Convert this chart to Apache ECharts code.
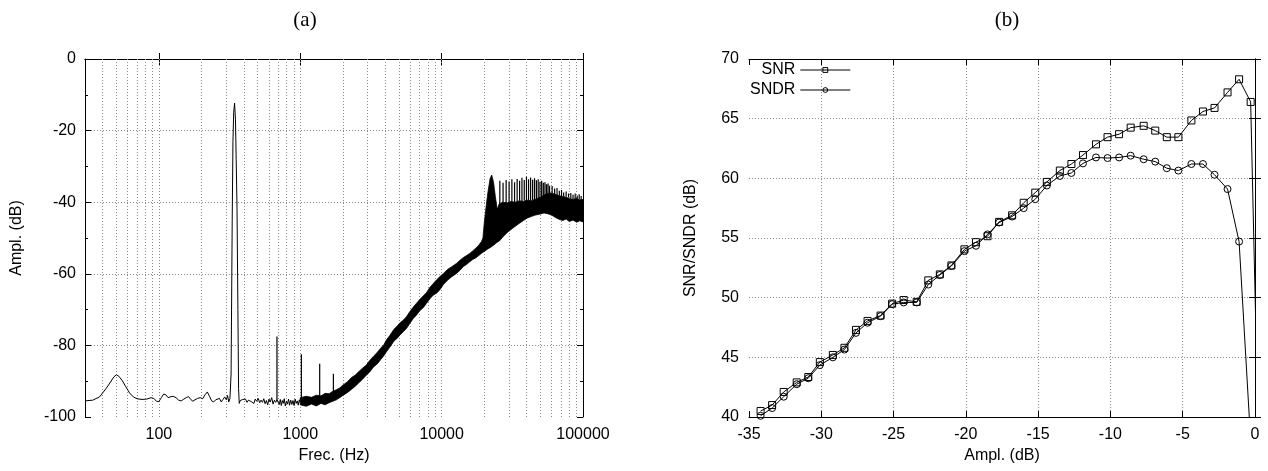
<!DOCTYPE html>
<html>
<head>
<meta charset="UTF-8">
<title>Spectrum and SNR/SNDR</title>
<script src="https://cdn.jsdelivr.net/npm/echarts@6/dist/echarts.min.js"></script>
<style>
  * { margin: 0; padding: 0; }
  body { background: #fff; }
  #chart { width: 1268px; height: 471px; }
</style>
</head>
<body>
<div id="chart"></div>
<script>
// ---- (a) spectrum ----
// thin trace below ~1 kHz
var lowFreq = [
  30, 34, 38, 42, 45, 48, 50, 52, 55, 58,
  62, 66, 70, 76, 82, 88, 92, 96, 100, 104,
  108, 112, 116, 120, 126, 132, 138, 144, 150, 156,
  162, 168, 174, 180, 188, 196, 204, 212, 220, 228,
  236, 244, 252, 260, 268, 276, 284, 292, 300, 306,
  312, 318, 324, 330, 334, 338, 343, 348, 352, 357,
  362, 366, 370, 376, 384, 392, 400, 410, 420, 430,
  440, 450, 460, 470, 480, 492, 504, 516, 528, 540,
  552, 564, 576, 588, 600, 614, 628, 642, 656, 670,
  684, 698, 710, 722, 734, 746, 758, 770, 784, 798,
  812, 826, 840, 856, 872, 888, 904, 920, 936, 952,
  968, 984, 1000
];
var lowAmp = [
  -95.5, -95.3, -94.4, -92.2, -90.5, -88.8, -88.2, -88.6, -89.8, -91.4,
  -93.3, -94.4, -94.9, -95.1, -95.0, -94.6, -94.8, -95.6, -95.7, -94.6,
  -93.6, -93.8, -94.6, -94.4, -94.2, -94.6, -95.3, -95.5, -95.0, -94.6,
  -94.3, -95.1, -95.6, -95.2, -94.8, -94.6, -94.9, -93.8, -93.0, -94.2,
  -95.5, -95.8, -95.2, -95.6, -94.8, -95.8, -95.1, -94.4, -95.2, -94.0,
  -95.8, -94.8, -88.0, -45.0, -23.0, -15.0, -12.3, -17.0, -28.0, -42.0,
  -70.0, -92.0, -96.2, -95.4, -95.8, -95.1, -95.6, -95.0, -95.9, -95.3,
  -94.9, -95.7, -95.2, -96.2, -95.0, -95.6, -94.8, -96.0, -95.3, -95.9,
  -94.9, -96.3, -95.4, -96.6, -95.0, -95.8, -94.6, -96.4, -95.3, -95.9,
  -95.2, -95.6, -96.5, -95.1, -96.8, -95.4, -96.2, -94.9, -96.9, -95.6,
  -96.4, -95.0, -96.7, -95.3, -96.5, -95.4, -96.8, -95.0, -96.2, -95.5,
  -96.7, -95.2, -96.0
];

// harmonic spikes
var harmFreq = [684, 1018, 1372, 1715];
var harmPeak = [-77.5, -82.5, -85.1, -87.9];
var harmBase = [-95.5, -95.8, -95.5, -94.5];

// thick noise band above 1 kHz (lower / upper edge)
var bandFreq = [
  1000, 1100, 1200, 1300, 1400, 1500, 1600, 1700, 1800, 1900,
  2000, 2150, 2300, 2450, 2600, 2750, 2936, 3100, 3300, 3500,
  3700, 3900, 4067, 4300, 4600, 4850, 5100, 5350, 5636, 5950,
  6300, 6650, 7000, 7400, 7803, 8250, 8700, 9200, 9700, 10300,
  11000, 11800, 12735, 13500, 14200, 15000, 15820, 16600, 17500, 18300,
  19130, 19600, 20000, 20600, 21300, 22000, 22600, 23300, 24000, 24700,
  25500, 27000, 29000, 31000, 33000, 35500, 38000, 40000, 43000, 46000,
  50000, 53000, 56000, 60000, 64000, 68000, 72000, 76000, 80000, 85000,
  90000, 95000, 100000
];
var bandLow = [
  -96.6, -97.0, -96.4, -96.9, -96.2, -96.6, -96.0, -95.6, -95.2, -94.6,
  -94.0, -93.2, -92.3, -91.4, -90.4, -89.5, -88.3, -87.4, -86.0, -85.2,
  -84.0, -82.9, -81.8, -80.5, -78.8, -78.0, -77.0, -76.2, -75.3, -73.9,
  -72.5, -71.5, -70.3, -69.5, -68.3, -67.0, -66.0, -65.4, -64.5, -63.0,
  -61.8, -60.8, -59.9, -59.0, -58.0, -57.4, -56.6, -56.0, -55.5, -54.9,
  -54.3, -54.0, -53.8, -53.4, -53.0, -52.7, -52.4, -52.0, -51.6, -51.2,
  -50.9, -49.8, -48.5, -47.6, -46.8, -45.9, -45.1, -44.5, -44.0, -43.6,
  -43.3, -43.0, -43.2, -43.6, -44.3, -44.8, -45.1, -44.7, -45.4, -45.0,
  -45.6, -45.2, -45.5
];
var bandHigh = [
  -94.6, -94.2, -94.5, -93.9, -94.1, -93.4, -93.5, -92.8, -92.4, -91.9,
  -91.1, -90.2, -89.0, -88.3, -87.3, -86.4, -85.5, -84.2, -83.0, -82.0,
  -80.8, -79.8, -78.5, -77.2, -75.5, -74.6, -73.6, -73.0, -72.0, -70.6,
  -69.3, -68.2, -67.2, -66.2, -65.3, -63.8, -62.8, -61.7, -60.8, -59.9,
  -58.8, -58.0, -57.1, -56.2, -55.5, -54.9, -54.3, -53.6, -52.8, -52.0,
  -51.0, -50.0, -46.0, -41.5, -37.0, -33.5, -32.4, -34.5, -38.5, -42.0,
  -40.5, -40.0, -40.2, -39.8, -40.0, -39.6, -39.8, -39.4, -39.6, -39.2,
  -38.6, -38.0, -37.6, -37.4, -37.8, -38.2, -38.4, -38.6, -39.0, -39.2,
  -39.0, -39.4, -39.2
];

// comb of spikes on top of the band (25k - 100k)
var combFreq = [
  25800, 27200, 28600, 30000, 31400, 32800, 34200, 35600, 37000, 38400,
  39800, 41200, 42600, 44000, 45400, 46800, 48200, 49600, 51000, 52400,
  53800, 55200, 56600, 58000, 60500, 63000, 65500, 68000, 70500, 73000,
  76000, 79000, 82000, 85000, 88000, 91000, 94000, 97000
];
var combTop = [
  -34.0, -34.6, -33.8, -34.2, -33.6, -34.4, -33.5, -34.0, -33.2, -33.8,
  -32.9, -33.6, -33.1, -33.7, -33.3, -33.9, -33.6, -34.3, -34.0, -34.6,
  -34.4, -35.0, -34.8, -35.4, -35.5, -36.2, -36.0, -36.8, -36.6, -37.3,
  -37.0, -37.6, -37.4, -37.9, -37.6, -38.1, -37.8, -38.3
];
var combBase = [
  -40.5, -40.0, -40.2, -40.0, -39.9, -40.0, -39.7, -39.6, -39.8, -39.6,
  -39.5, -39.5, -39.6, -39.4, -39.3, -39.2, -39.0, -38.8, -38.6, -38.4,
  -38.2, -38.0, -37.8, -37.6, -37.5, -37.8, -38.0, -38.2, -38.4, -38.5,
  -38.5, -38.7, -39.0, -39.1, -39.1, -39.2, -39.3, -39.3
];

var freqGrid = [40, 50, 60, 70, 80, 90, 100, 200, 300, 400, 500, 600, 700, 800, 900,
  1000, 2000, 3000, 4000, 5000, 6000, 7000, 8000, 9000,
  10000, 20000, 30000, 40000, 50000, 60000, 70000, 80000, 90000];

// ---- (b) SNR / SNDR ----
var ampDb = [-34.2, -33.4, -32.6, -31.7, -30.9, -30.1, -29.2, -28.4, -27.6, -26.8,
  -25.9, -25.1, -24.3, -23.4, -22.6, -21.8, -21.0, -20.1, -19.3, -18.5,
  -17.7, -16.8, -16.0, -15.2, -14.4, -13.5, -12.7, -11.9, -11.0, -10.2,
  -9.4, -8.6, -7.7, -6.9, -6.1, -5.3, -4.4, -3.6, -2.8, -1.9,
  -1.1, -0.3, 0.5];
var snr = [40.5, 41.0, 42.1, 42.9, 43.35, 44.6, 45.2, 45.8, 47.3, 48.05,
  48.5, 49.5, 49.8, 49.65, 51.45, 51.95, 52.7, 54.05, 54.65, 55.15,
  56.35, 56.9, 57.95, 58.8, 59.7, 60.65, 61.2, 61.95, 62.85, 63.45,
  63.7, 64.25, 64.4, 64.0, 63.45, 63.45, 64.85, 65.6, 65.9, 67.2,
  68.3, 66.4, 24];
var sndr = [40.1, 40.75, 41.7, 42.75, 43.25, 44.35, 45.0, 45.65, 47.05, 47.9,
  48.45, 49.45, 49.6, 49.6, 51.1, 51.9, 52.65, 53.9, 54.35, 55.3,
  56.3, 56.8, 57.5, 58.25, 59.4, 60.2, 60.45, 61.25, 61.75, 61.7,
  61.75, 61.9, 61.6, 61.4, 60.85, 60.65, 61.2, 61.2, 60.3, 59.1,
  54.7, 38, 20];

function zip(xs, ys) {
  return xs.map(function (x, i) { return [x, ys[i]]; });
}
// vertical segments separated by gaps
function spikes(xs, tops, bases) {
  var d = [];
  xs.forEach(function (x, i) {
    d.push([x, bases[i]], [x, tops[i]], ['-', '-']);
  });
  return d;
}

var font = 'Liberation Sans';
var dotted = { color: '#8a8a8a', width: 1, type: [1, 2] };
var txt = { color: '#000', fontFamily: font, fontSize: 16 };
var blackLine = { show: true, lineStyle: { color: '#000', width: 1 } };
var tick = { inside: true, length: 6, lineStyle: { color: '#000' } };
var hollow = { color: 'rgba(0,0,0,0)', borderColor: '#000', borderWidth: 1 };

var chart = echarts.init(document.getElementById('chart'));

var option = {
  animation: false,
  backgroundColor: '#fff',
  title: [
    { text: '(a)', left: 300, top: 5, textAlign: 'center',
      textStyle: { fontFamily: 'Liberation Serif', fontSize: 21, fontWeight: 'normal', color: '#000' } },
    { text: '(b)', left: 1002, top: 5, textAlign: 'center',
      textStyle: { fontFamily: 'Liberation Serif', fontSize: 21, fontWeight: 'normal', color: '#000' } }
  ],
  grid: [
    { left: 85, top: 59, width: 498, height: 358 },
    { left: 749, top: 59, width: 506, height: 358 }
  ],
  legend: {
    data: ['SNR', 'SNDR'],
    orient: 'vertical',
    align: 'right',
    left: 750,
    top: 62,
    padding: 0,
    itemWidth: 50,
    itemHeight: 6,
    itemGap: 4,
    lineStyle: { width: 1 },
    itemStyle: hollow,
    textStyle: { color: '#000', fontFamily: font, fontSize: 16 }
  },
  xAxis: [
    { gridIndex: 0, type: 'log', logBase: 10, min: 30, max: 100000, position: 'bottom',
      name: 'Frec. (Hz)', nameLocation: 'middle', nameGap: 27, nameTextStyle: txt,
      axisLine: blackLine, axisTick: tick,
      axisLabel: { margin: 10, showMinLabel: false, formatter: function (v) { return String(v); }, color: '#000', fontFamily: font, fontSize: 16 },
      splitLine: { show: false } },
    { gridIndex: 0, type: 'log', logBase: 10, min: 30, max: 100000, position: 'top',
      axisLine: blackLine, axisTick: tick,
      axisLabel: { show: false }, splitLine: { show: false } },
    { gridIndex: 1, type: 'value', min: -35, max: 0, interval: 5, position: 'bottom',
      name: 'Ampl. (dB)', nameLocation: 'middle', nameGap: 27, nameTextStyle: txt,
      axisLine: blackLine, axisTick: tick,
      axisLabel: { margin: 10, color: '#000', fontFamily: font, fontSize: 16 },
      splitLine: { show: true, showMinLine: false, showMaxLine: false, lineStyle: dotted } },
    { gridIndex: 1, type: 'value', min: -35, max: 0, interval: 5, position: 'top',
      axisLine: blackLine, axisTick: tick,
      axisLabel: { show: false }, splitLine: { show: false } }
  ],
  yAxis: [
    { gridIndex: 0, type: 'value', min: -100, max: 0, interval: 20, position: 'left',
      name: 'Ampl. (dB)', nameLocation: 'middle', nameGap: 60, nameTextStyle: txt,
      axisLine: blackLine, axisTick: tick,
      minorTick: { show: true, splitNumber: 2, length: 3, lineStyle: { color: '#000' } },
      axisLabel: { margin: 9, color: '#000', fontFamily: font, fontSize: 16 },
      splitLine: { show: true, showMinLine: false, showMaxLine: false, lineStyle: dotted } },
    { gridIndex: 0, type: 'value', min: -100, max: 0, interval: 20, position: 'right',
      axisLine: blackLine, axisTick: tick,
      minorTick: { show: true, splitNumber: 2, length: 3, lineStyle: { color: '#000' } },
      axisLabel: { show: false }, splitLine: { show: false } },
    { gridIndex: 1, type: 'value', min: 40, max: 70, interval: 5, position: 'left',
      name: 'SNR/SNDR (dB)', nameLocation: 'middle', nameGap: 50, nameTextStyle: txt,
      axisLine: blackLine, axisTick: tick,
      axisLabel: { margin: 10, color: '#000', fontFamily: font, fontSize: 16 },
      splitLine: { show: true, showMinLine: false, showMaxLine: false, lineStyle: dotted } },
    { gridIndex: 1, type: 'value', min: 40, max: 70, interval: 5, position: 'right',
      axisLine: blackLine, axisTick: tick,
      axisLabel: { show: false }, splitLine: { show: false } }
  ],
  series: [
    { name: 'grid', type: 'line', xAxisIndex: 0, yAxisIndex: 0, data: [], silent: true,
      markLine: {
        silent: true, z: 1, symbol: ['none', 'none'], animation: false,
        label: { show: false }, lineStyle: dotted, emphasis: { disabled: true },
        data: freqGrid.map(function (f) { return { xAxis: f }; })
      } },
    { name: 'low', type: 'line', xAxisIndex: 0, yAxisIndex: 0, data: zip(lowFreq, lowAmp),
      showSymbol: false, lineStyle: { color: '#000', width: 1 }, z: 3 },
    { name: 'harm', type: 'line', xAxisIndex: 0, yAxisIndex: 0, data: spikes(harmFreq, harmPeak, harmBase),
      showSymbol: false, connectNulls: false, lineStyle: { color: '#000', width: 1.2 }, z: 3 },
    // noise band drawn as a filled polygon between lower and upper edge
    { name: 'band', type: 'custom', xAxisIndex: 0, yAxisIndex: 0, z: 3, silent: true,
      data: [[bandFreq[0], bandLow[0]]],
      renderItem: function (params, api) {
        var pts = [];
        var i;
        for (i = 0; i < bandFreq.length; i++) pts.push(api.coord([bandFreq[i], bandHigh[i]]));
        for (i = bandFreq.length - 1; i >= 0; i--) pts.push(api.coord([bandFreq[i], bandLow[i]]));
        return { type: 'polygon', shape: { points: pts },
          style: { fill: '#000', stroke: '#000', lineWidth: 0.8 } };
      } },
    { name: 'comb', type: 'line', xAxisIndex: 0, yAxisIndex: 0, data: spikes(combFreq, combTop, combBase),
      showSymbol: false, connectNulls: false, lineStyle: { color: '#000', width: 1.2 }, z: 3 },

    { name: 'SNR', type: 'line', xAxisIndex: 2, yAxisIndex: 2, data: zip(ampDb, snr),
      symbol: 'rect', symbolSize: 7, clip: true,
      lineStyle: { color: '#000', width: 1 }, itemStyle: hollow },
    { name: 'SNDR', type: 'line', xAxisIndex: 2, yAxisIndex: 2, data: zip(ampDb, sndr),
      symbol: 'circle', symbolSize: 7, clip: true,
      lineStyle: { color: '#000', width: 1 }, itemStyle: hollow }
  ]
};

chart.setOption(option);
</script>
</body>
</html>
